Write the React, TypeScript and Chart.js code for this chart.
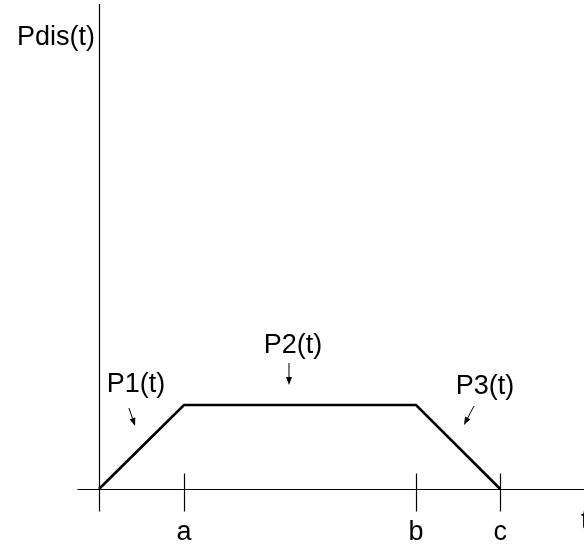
import React, { useEffect, useRef } from "react";
import { Chart, registerables } from "chart.js";

Chart.register(...registerables);

// ---- data ----
const tValues = [0, 1, 3.73, 4.72]; // 0, a, b, c
const pValues = [0, 1, 1, 0];
const tickLabels = ["a", "b", "c"];
const tickValues = [1, 3.73, 4.72];
const yTitle = "Pdis(t)";
const xTitle = "t";
const segmentLabels = ["P1(t)", "P2(t)", "P3(t)"];
// label anchors (baseline centre) and arrows in data units (t, P)
const segLabelT = [0.435, 2.282, 4.541];
const segLabelP = [1.155, 1.619, 1.131];
const arrowFromT = [0.353, 2.235, 4.412];
const arrowFromP = [0.964, 1.5, 0.988];
const arrowToT = [0.424, 2.235, 4.294];
const arrowToP = [0.75, 1.238, 0.762];

const X_MIN = -1.1647;
const X_MAX = 5.7059;
const Y_MIN = -0.6667;
const Y_MAX = 5.8214;

const FONT = '27px "Liberation Sans", Arial, sans-serif';

const axesPlugin = {
  id: "customAxes",
  beforeDatasetsDraw(chart: any) {
    const { ctx, scales } = chart;
    const xs = scales.x;
    const ys = scales.y;
    const x0 = Math.round(xs.getPixelForValue(0)) + 0.5;
    const y0 = Math.round(ys.getPixelForValue(0)) + 0.5;
    ctx.save();
    ctx.strokeStyle = "#000";
    ctx.lineWidth = 1.2;
    ctx.beginPath();
    ctx.moveTo(x0, 4);
    ctx.lineTo(x0, y0 + 22);
    ctx.stroke();
    ctx.beginPath();
    ctx.moveTo(x0 - 22, y0);
    ctx.lineTo(chart.width, y0);
    ctx.stroke();
    tickValues.forEach((v) => {
      const px = Math.round(xs.getPixelForValue(v)) + 0.5;
      ctx.beginPath();
      ctx.moveTo(px, y0 - 16);
      ctx.lineTo(px, y0 + 22);
      ctx.stroke();
    });
    ctx.restore();
  },
  afterDraw(chart: any) {
    const { ctx, scales } = chart;
    const xs = scales.x;
    const ys = scales.y;
    const x0 = xs.getPixelForValue(0);
    const y0 = ys.getPixelForValue(0);
    ctx.save();
    ctx.fillStyle = "#000";
    ctx.strokeStyle = "#000";
    ctx.font = FONT;
    ctx.textBaseline = "alphabetic";
    ctx.textAlign = "center";
    tickLabels.forEach((lab, i) => {
      ctx.fillText(lab, xs.getPixelForValue(tickValues[i]), y0 + 51);
    });
    ctx.textAlign = "right";
    ctx.fillText(yTitle, x0 - 4, 45);
    ctx.textAlign = "left";
    ctx.fillText(xTitle, 581, y0 + 40);
    ctx.textAlign = "center";
    segmentLabels.forEach((lab, i) => {
      const px = xs.getPixelForValue(segLabelT[i]);
      const py = ys.getPixelForValue(segLabelP[i]);
      ctx.fillText(lab, px, py);
    });
    ctx.lineWidth = 1;
    segmentLabels.forEach((_, i) => {
      const fx = xs.getPixelForValue(arrowFromT[i]);
      const fy = ys.getPixelForValue(arrowFromP[i]);
      const tx = xs.getPixelForValue(arrowToT[i]);
      const ty = ys.getPixelForValue(arrowToP[i]);
      const ang = Math.atan2(ty - fy, tx - fx);
      const hl = 8;
      const hw = 3;
      const bx = tx - hl * Math.cos(ang);
      const by = ty - hl * Math.sin(ang);
      ctx.beginPath();
      ctx.moveTo(fx, fy);
      ctx.lineTo(bx, by);
      ctx.stroke();
      ctx.beginPath();
      ctx.moveTo(tx, ty);
      ctx.lineTo(bx + hw * Math.sin(ang), by - hw * Math.cos(ang));
      ctx.lineTo(bx - hw * Math.sin(ang), by + hw * Math.cos(ang));
      ctx.closePath();
      ctx.fill();
    });
    ctx.restore();
  },
};

export default function App() {
  const ref = useRef<HTMLCanvasElement | null>(null);
  useEffect(() => {
    document.body.style.margin = "0";
    if (!ref.current) return;
    const chart = new Chart(ref.current, {
      type: "line",
      data: {
        datasets: [
          {
            label: "Pdis(t)",
            data: tValues.map((t, i) => ({ x: t, y: pValues[i] })),
            borderColor: "#000",
            borderWidth: 2.6,
            pointRadius: 0,
            fill: false,
            tension: 0,
          },
        ],
      },
      options: {
        animation: false,
        responsive: false,
        maintainAspectRatio: false,
        devicePixelRatio: 1,
        layout: { padding: 0 },
        plugins: {
          legend: { display: false },
          tooltip: { enabled: false },
          title: { display: false },
        },
        scales: {
          x: { type: "linear", min: X_MIN, max: X_MAX, display: false },
          y: { type: "linear", min: Y_MIN, max: Y_MAX, display: false },
        },
      },
      plugins: [axesPlugin],
    });
    return () => chart.destroy();
  }, []);
  return (
    <div style={{ position: "absolute", left: 0, top: 0, width: 584, height: 545, background: "#fff" }}>
      <canvas ref={ref} width={584} height={545} />
    </div>
  );
}
